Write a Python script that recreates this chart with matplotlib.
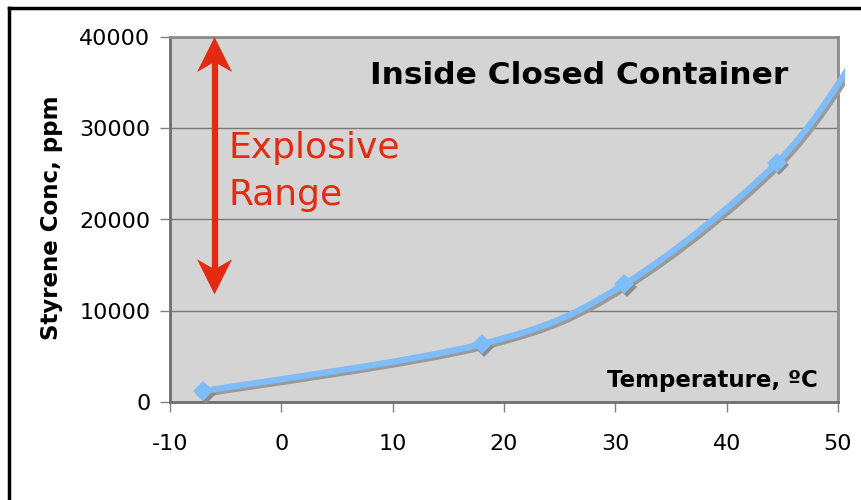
import matplotlib
matplotlib.use("Agg")
import matplotlib.pyplot as plt
import numpy as np
from matplotlib.path import Path
from matplotlib.patches import PathPatch, Rectangle, Polygon
from matplotlib.lines import Line2D
import matplotlib.transforms as mtransforms

plt.rcParams["axes.unicode_minus"] = False

# Data
temps = [-7, 18, 30.8, 44.5, 52]
conc = [1200, 6350, 12900, 26200, 38500]
marker_idx = [0, 1, 2, 3]
x_ticks = [-10, 0, 10, 20, 30, 40, 50]
y_ticks = [0, 10000, 20000, 30000, 40000]
title_text = "Inside Closed Container"
xlabel_text = "Temperature, ºC"
ylabel_text = "Styrene Conc, ppm"
range_lines = ["Explosive", "Range"]
range_arrow_x = -6
range_arrow_y = [11800, 40000]

RED = "#e22b10"
BLUE = "#7fbcfa"

W, H = 862, 500
fig = plt.figure(figsize=(W / 100, H / 100), dpi=100)
ax = fig.add_axes([170 / W, 1 - 402 / H, (838 - 170) / W, (402 - 37) / H])
ax.set_facecolor("#d4d4d4")
ax.set_xlim(-10, 50)
ax.set_ylim(0, 40000)
ax.set_xticks(x_ticks)
ax.set_yticks(y_ticks)
ax.tick_params(axis="both", direction="out", length=7, width=1, color="#808080",
               labelsize=16)
ax.tick_params(axis="x", pad=16)
ax.tick_params(axis="y", pad=7)
ax.yaxis.grid(True, color="#7a7a7a", linewidth=1)
ax.set_axisbelow(True)
for s in ax.spines.values():
    s.set_color("#8c8c8c")
    s.set_linewidth(2)
ax.spines["bottom"].set_color("#6e6e6e")
ax.spines["left"].set_color("#6e6e6e")


def smooth_path(xs, ys):
    pts = np.column_stack([xs, ys]).astype(float)
    n = len(pts)
    verts = [pts[0]]
    codes = [Path.MOVETO]
    for i in range(n - 1):
        p0 = pts[i - 1] if i > 0 else pts[i]
        p1 = pts[i]
        p2 = pts[i + 1]
        p3 = pts[i + 2] if i + 2 < n else pts[i + 1]
        c1 = p1 + (p2 - p0) / 6.0
        c2 = p2 - (p3 - p1) / 6.0
        verts += [c1, c2, p2]
        codes += [Path.CURVE4] * 3
    return Path(verts, codes)


path = smooth_path(temps, conc)
clip_rect = Rectangle((0, 0), 1.011, 1.0, transform=ax.transAxes, visible=False)
ax.add_patch(clip_rect)

shadow_off = mtransforms.offset_copy(ax.transData, fig=fig, x=2.5, y=-2.5, units="dots")
shadow = PathPatch(path, facecolor="none", edgecolor="#9a9a9a", linewidth=4.5,
                   transform=shadow_off, zorder=3, capstyle="butt")
ax.add_patch(shadow)
shadow.set_clip_path(clip_rect)
main = PathPatch(path, facecolor="none", edgecolor=BLUE, linewidth=4.5,
                 zorder=4, capstyle="butt")
ax.add_patch(main)
main.set_clip_path(clip_rect)

mx = [temps[i] for i in marker_idx]
my = [conc[i] for i in marker_idx]
ax.plot(mx, my, linestyle="none", marker="D", markersize=10, color="#8c8c8c",
        markeredgewidth=0, transform=shadow_off, zorder=3)
ax.plot(mx, my, linestyle="none", marker="D", markersize=10, color=BLUE,
        markeredgewidth=0, zorder=5)

# Explosive range double arrow (stealth heads), built in display pixels
fig.canvas.draw()
(tx, ty_bot) = ax.transData.transform((range_arrow_x, range_arrow_y[0]))
(_, ty_top) = ax.transData.transform((range_arrow_x, range_arrow_y[1]))
hw, hl, notch = 17.5, 35, 25
top_head = [(tx, ty_top), (tx + hw, ty_top - hl), (tx, ty_top - notch), (tx - hw, ty_top - hl)]
bot_head = [(tx, ty_bot), (tx + hw, ty_bot + hl), (tx, ty_bot + notch), (tx - hw, ty_bot + hl)]
for poly in (top_head, bot_head):
    p = Polygon(poly, closed=True, facecolor=RED, edgecolor="none", transform=None,
                zorder=6, clip_on=False)
    fig.add_artist(p)
fig.add_artist(Line2D([tx, tx], [ty_bot + notch, ty_top - notch], color=RED,
                      linewidth=4.5, transform=None, solid_capstyle="butt", zorder=6))

fig.text(229 / W, 1 - 148 / H, range_lines[0], fontsize=26, color=RED,
         va="center", ha="left")
fig.text(229 / W, 1 - 195 / H, range_lines[1], fontsize=26, color=RED,
         va="center", ha="left")

fig.text(579 / W, 1 - 75 / H, title_text, fontsize=22.5, fontweight="bold",
         ha="center", va="center")
fig.text(818 / W, 1 - 380 / H, xlabel_text, fontsize=16.5, fontweight="bold",
         ha="right", va="center")
fig.text(52 / W, 1 - 218 / H, ylabel_text, fontsize=16.5, fontweight="bold",
         rotation=90, ha="center", va="center")

# Outer frame
fig.add_artist(Line2D([9 / W, 9 / W], [0, 1 - 8 / H], color="black", linewidth=2.5,
                      transform=fig.transFigure))
fig.add_artist(Line2D([9 / W, 1], [1 - 8 / H, 1 - 8 / H], color="black", linewidth=2.5,
                      transform=fig.transFigure))

fig.savefig("out.png", dpi=100)
